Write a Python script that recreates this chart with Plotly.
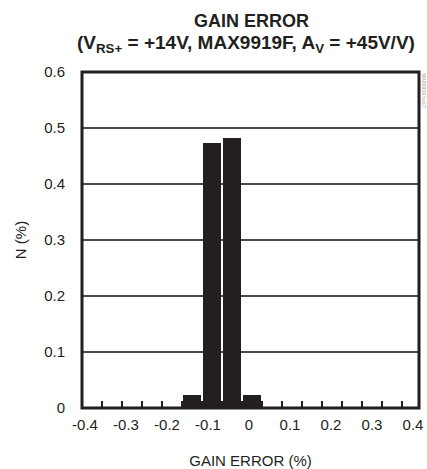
import plotly.graph_objects as go

# Data
bin_centers = [-0.125, -0.075, -0.025, 0.025]
n_percent = [0.023, 0.473, 0.483, 0.023]
x_tick_values = [-0.4, -0.3, -0.2, -0.1, 0, 0.1, 0.2, 0.3, 0.4]
x_tick_labels = ["-0.4", "-0.3", "-0.2", "-0.1", "0", "0.1", "0.2", "0.3", "0.4"]
y_tick_values = [0, 0.1, 0.2, 0.3, 0.4, 0.5, 0.6]
y_tick_labels = ["0", "0.1", "0.2", "0.3", "0.4", "0.5", "0.6"]
title_line1 = "GAIN ERROR"
title_line2 = "(V<sub>RS+</sub> = +14V, MAX9919F, A<sub>V</sub> = +45V/V)"

FONT = "Liberation Sans"
INK = "#231f20"

fig = go.Figure()
fig.add_trace(go.Bar(
    x=bin_centers, y=n_percent, width=0.046,
    marker=dict(color=INK, line=dict(width=0)),
    xaxis="x", yaxis="y", showlegend=False,
))
# invisible trace to activate the label axis
fig.add_trace(go.Scatter(x=[x_tick_values[0]], y=[0], xaxis="x2", yaxis="y",
                         mode="markers", marker=dict(opacity=0), showlegend=False,
                         hoverinfo="skip"))

fig.update_layout(
    width=427, height=469,
    margin=dict(l=82, r=8, t=71.5, b=60.5, autoexpand=False),
    paper_bgcolor="white", plot_bgcolor="white",
    font=dict(family=FONT, size=15, color=INK),
    bargap=0,
    xaxis=dict(
        range=[-0.4, 0.4425], showgrid=False, zeroline=False, automargin=False,
        ticks="inside", ticklen=7, tickwidth=1.5, tickcolor=INK,
        tick0=0, dtick=0.05, showticklabels=False, showline=False,
    ),
    xaxis2=dict(
        overlaying="x", anchor="y", side="bottom", automargin=False,
        range=[-0.4073, 0.4146], showgrid=False, zeroline=False,
        tickmode="array", tickvals=x_tick_values, ticktext=x_tick_labels,
        ticks="", ticklabelstandoff=6, showline=False,
        title=dict(text="GAIN ERROR (%)", standoff=24, font=dict(size=15)),
    ),
    yaxis=dict(
        range=[0, 0.6], showgrid=True, gridcolor="#4a4a4a", gridwidth=1.5,
        zeroline=False, automargin=False,
        tickmode="array", tickvals=y_tick_values, ticktext=y_tick_labels,
        ticks="", ticklabelstandoff=16, showline=False,
        title=dict(text="N (%)", standoff=13, font=dict(size=15)),
    ),
    shapes=[dict(type="rect", xref="paper", yref="paper", x0=0, x1=1, y0=0, y1=1,
                 line=dict(color=INK, width=3), layer="above")],
    annotations=[
        dict(text="<b>" + title_line1 + "</b>", xref="paper", yref="paper",
             x=(251 - 82) / 337, y=1, yshift=71.5 - 8, yanchor="top", xanchor="center",
             showarrow=False, font=dict(size=18, color=INK, family=FONT)),
        dict(text="<b>" + title_line2 + "</b>", xref="paper", yref="paper",
             x=(246 - 82) / 337, y=1, yshift=71.5 - 29, yanchor="top", xanchor="center",
             showarrow=False, font=dict(size=19, color=INK, family=FONT)),
        dict(text="MAX9919 toc07", xref="paper", yref="paper",
             x=1.0, xshift=1, y=1.0, yanchor="top", xanchor="left",
             textangle=90, showarrow=False, borderpad=0,
             font=dict(size=5, color="#999999", family=FONT)),
    ],
)

fig.write_html("out.html", config={"displayModeBar": False},
               post_script="document.body.style.margin='0';")
